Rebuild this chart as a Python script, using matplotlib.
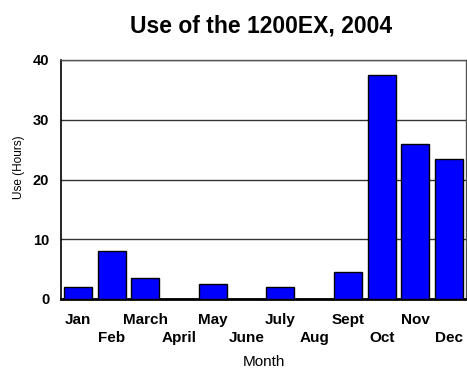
import matplotlib
matplotlib.use("Agg")
import matplotlib.pyplot as plt

months = ["Jan", "Feb", "March", "April", "May", "June",
          "July", "Aug", "Sept", "Oct", "Nov", "Dec"]
hours = [2.0, 8.0, 3.5, 0.0, 2.5, 0.0, 2.0, 0.0, 4.5, 37.5, 26.0, 23.5]
y_ticks = [0, 10, 20, 30, 40]

plt.rcParams["font.family"] = ["Liberation Sans", "DejaVu Sans"]

W, H = 467, 370
fig = plt.figure(figsize=(W / 100, H / 100), dpi=100)
ax = fig.add_axes([61 / W, 1 - 299 / H, 405 / W, 239 / H])

x = list(range(len(months)))
ax.bar(x, hours, width=0.83, color="#0000ff", edgecolor="black", linewidth=1.0, zorder=3)

ax.set_xlim(-0.5, len(months) - 0.5)
ax.set_ylim(0, 40)
ax.set_yticks(y_ticks)
ax.set_yticklabels([str(v) for v in y_ticks], fontsize=10.5, fontweight="bold")
ax.yaxis.grid(True, color="#333333", linewidth=1.0, zorder=0)
ax.tick_params(axis="both", length=0)
ax.tick_params(axis="y", pad=8.5)

# month names alternate between two rows
ax.set_xticks(x)
ax.set_xticklabels(months, fontsize=11, fontweight="bold")
for i, tick in enumerate(ax.xaxis.get_major_ticks()):
    tick.set_pad(10 + (13.3 if i % 2 else 0))

for side in ("top", "right"):
    ax.spines[side].set_color("#555555")
    ax.spines[side].set_linewidth(1.0)
ax.spines["left"].set_linewidth(1.2)
ax.spines["bottom"].set_linewidth(2.0)

ax.set_xlabel("Month", fontsize=11, labelpad=7)
ax.set_ylabel("Use (Hours)", fontsize=8.5)
ax.yaxis.set_label_coords(-36 / 405, 0.55)

fig.text(261 / W, 1 - 33 / H, "Use of the 1200EX, 2004", ha="center", va="baseline",
         fontsize=16.5, fontweight="bold")

fig.savefig("out.png", dpi=100)
